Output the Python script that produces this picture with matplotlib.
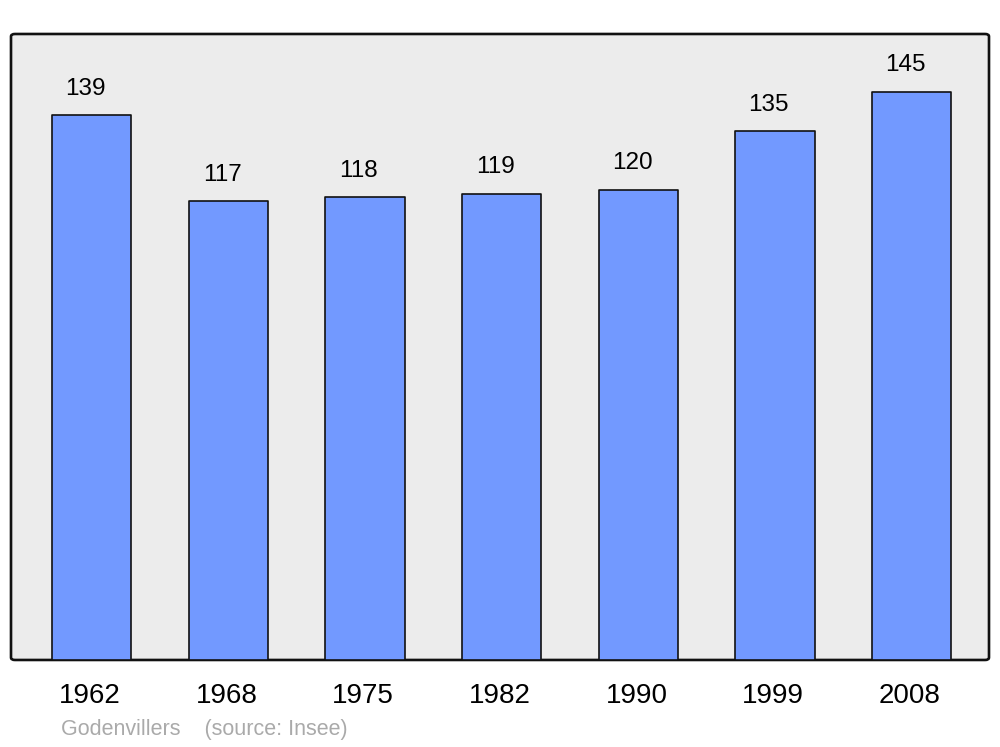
import matplotlib
matplotlib.use("Agg")
import matplotlib.pyplot as plt
from matplotlib.patches import FancyBboxPatch
from matplotlib.transforms import ScaledTranslation

years = ["1962", "1968", "1975", "1982", "1990", "1999", "2008"]
population = [139, 117, 118, 119, 120, 135, 145]
caption = "Godenvillers    (source: Insee)"

plt.rcParams['font.family'] = ['Liberation Sans', 'DejaVu Sans']

fig = plt.figure(figsize=(10, 7.47), dpi=100)
ax = fig.add_axes([0.011, 0.1165, 0.978, 0.838])
ax.patch.set_visible(False)
for s in ax.spines.values():
    s.set_visible(False)

frame = FancyBboxPatch((0, 0), 1, 1, boxstyle="round,pad=0,rounding_size=0.004",
                       transform=ax.transAxes, facecolor="#ececec", edgecolor="#111111",
                       linewidth=1.9, zorder=0, clip_on=False)
ax.add_patch(frame)

x = list(range(len(years)))
bars = ax.bar(x, population, width=0.58, color="#7299ff", edgecolor="#111111",
              linewidth=1.2, zorder=2)
for b in bars:
    b.set_joinstyle('round')

for xi, v in zip(x, population):
    ax.annotate(str(v), (xi, v), xytext=(-4.5, 18.8), textcoords="offset points",
                ha="center", va="center", fontsize=17.5, color="#000000")

ax.set_xlim(-0.59, 6.565)
ax.set_ylim(0, 159.7)
ax.set_xticks(x)
ax.set_xticklabels(years, fontsize=20)
ax.tick_params(axis='x', length=0, pad=16.5)
shift = ScaledTranslation(-2 / 100, 0, fig.dpi_scale_trans)
for lbl in ax.get_xticklabels():
    lbl.set_transform(lbl.get_transform() + shift)
ax.set_yticks([])

fig.text(0.061, 0.0228, caption, fontsize=15.5, color="#aaaaaa", ha="left", va="center")

fig.savefig("out.png", dpi=100)
